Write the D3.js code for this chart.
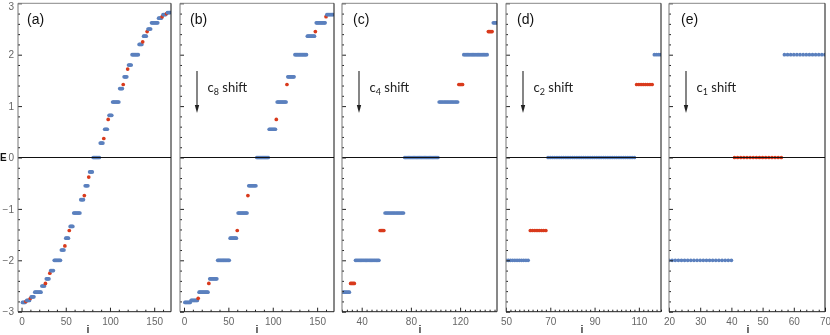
<!DOCTYPE html>
<html><head><meta charset="utf-8">
<script src="https://cdn.jsdelivr.net/npm/d3@7"></script>
<style>
html,body{margin:0;padding:0;background:#fff;}
svg{display:block;will-change:transform;-webkit-font-smoothing:antialiased;}
</style></head>
<body>
<script>
// ---------- data (energy levels, degeneracy, kind: B = degenerate blue, R = red) ----------
const aE    = [-2.82,-2.80,-2.78,-2.74,-2.71,-2.62,-2.50,-2.45,-2.36,-2.25,-2.20,-2.00,-1.80,-1.72,-1.57,-1.42,-1.34,-1.08,-0.82,-0.74,-0.55,-0.38,-0.28,0,
               0.28,0.37,0.55,0.74,0.82,1.08,1.34,1.42,1.57,1.72,1.80,2.00,2.20,2.25,2.36,2.45,2.50,2.62,2.71,2.74,2.78,2.80,2.82];
const aDeg  = [4,1,4,1,4,8,4,1,4,1,4,8,4,1,4,1,4,8,4,1,4,1,4,8,
               4,1,4,1,4,8,4,1,4,1,4,8,4,1,4,1,4,8,4,1,4,1,4];
const aKind = ["B","R","B","R","B","B","B","R","B","R","B","B","B","R","B","R","B","B","B","R","B","R","B","B",
               "B","R","B","R","B","B","B","R","B","R","B","B","B","R","B","R","B","B","B","R","B","R","B"];

const bE    = [-2.82,-2.78,-2.74,-2.62,-2.45,-2.36,-2.00,-1.57,-1.42,-1.08,-0.74,-0.55,0,0.55,0.74,1.08,1.42,1.57,2.00,2.36,2.45,2.62,2.74,2.78];
const bDeg  = [7,8,1,11,1,9,14,8,1,11,1,9,14,8,1,11,1,8,14,9,1,11,1,8];
const bKind = ["B","B","R","B","R","B","B","B","R","B","R","B","B","B","R","B","R","B","B","B","R","B","R","B"];

const cE    = [-2.82,-2.62,-2.45,-2.00,-1.42,-1.08,0,1.08,1.42,2.00,2.45,2.62];
const cDeg  = [8,22,4,20,4,16,28,16,4,20,4,22];
const cKind = ["B","B","R","B","R","B","B","B","R","B","R","B"];

const dE    = [-2.00,-1.42,0,1.42,2.00];
const dDeg  = [60,8,40,8,52];
const dKind = ["B","R","B","R","B"];

const eE    = [-2.00,0,2.00];
const eDeg  = [40,16,112];
const eKind = ["B","R","B"];

const panelLabels = ["(a)","(b)","(c)","(d)","(e)"];
const shiftSubs   = [null,"8","4","2","1"];
const xDomains    = [[-4,169],[-4.5,169],[24,150],[50,120],[20,70]];
const xMajorTicks = [[0,50,100,150],[0,50,100,150],[40,80,120],[50,70,90,110],[20,30,40,50,60,70]];
const xMinorStep  = [10,10,4,2,2];
const yTicks      = [-3,-2,-1,0,1,2,3];

// ---------- layout ----------
const W = 830, H = 335;
const TOP = 3.3, BOT = 311.7;
const frames = [[18,171],[180,334],[342,497],[506,661],[669,825]];
const iLabelX = [88,257,420,582,748];
const BLUE = "#5b80be", RED = "#d93a1c";
const tickFont = "'Liberation Sans Narrow','Liberation Sans',Arial,sans-serif";

const svg = d3.select("body").append("svg").attr("width",W).attr("height",H);
const y = d3.scaleLinear().domain([-3,3]).range([BOT,TOP]);

const datasets = [[aE,aDeg,aKind],[bE,bDeg,bKind],[cE,cDeg,cKind],[dE,dDeg,dKind],[eE,eDeg,eKind]];

datasets.forEach(([E,deg,kind],p) => {
  const [fx0,fx1] = frames[p];
  const x = d3.scaleLinear().domain(xDomains[p]).range([fx0,fx1]);
  const g = svg.append("g");

  // clip
  const cid = "clip"+p;
  svg.append("clipPath").attr("id",cid).append("rect")
    .attr("x",fx0).attr("y",TOP).attr("width",fx1-fx0).attr("height",BOT-TOP);

  // points
  const pts = [];
  let idx = 1;
  E.forEach((e,k) => {
    for (let j=0;j<deg[k];j++){ pts.push({i:idx, e:e, kind:kind[k]}); idx++; }
  });
  g.append("g").attr("clip-path",`url(#${cid})`)
    .selectAll("circle").data(pts).join("circle")
    .attr("cx",d=>x(d.i)).attr("cy",d=>y(d.e)).attr("r",1.85)
    .attr("fill",d=>d.kind==="R"?RED:BLUE);

  // zero line
  g.append("line").attr("x1",fx0).attr("x2",fx1).attr("y1",y(0)).attr("y2",y(0))
    .attr("stroke","#111").attr("stroke-width",1);

  // x axis major
  const xa = g.append("g").attr("transform",`translate(0,${BOT})`)
    .call(d3.axisBottom(x).tickValues(xMajorTicks[p]).tickSizeInner(-4).tickSizeOuter(0).tickPadding(6));
  xa.select(".domain").remove();
  xa.selectAll("line").attr("stroke","#222");
  xa.selectAll("text").attr("fill","#666").style("font-family",tickFont).style("font-size","10px");
  // x minor
  const mstep = xMinorStep[p];
  const minors = d3.range(Math.ceil(xDomains[p][0]/mstep)*mstep, xDomains[p][1]+0.001, mstep)
      .filter(v => !xMajorTicks[p].some(t=>Math.abs(t-v)<1e-6));
  const xm = g.append("g").attr("transform",`translate(0,${BOT})`)
    .call(d3.axisBottom(x).tickValues(minors).tickSizeInner(-2).tickSizeOuter(0).tickFormat(""));
  xm.select(".domain").remove();
  xm.selectAll("line").attr("stroke","#222");

  // y axis major
  const ya = g.append("g").attr("transform",`translate(${fx0},0)`)
    .call(d3.axisLeft(y).tickValues(yTicks).tickSizeInner(-4).tickSizeOuter(0).tickPadding(4)
      .tickFormat(p===0 ? d3.format("d") : ""));
  ya.select(".domain").remove();
  ya.selectAll("line").attr("stroke","#222");
  ya.selectAll("text").attr("fill","#666").style("font-family",tickFont).style("font-size","10px")
    .attr("dy",d => d===3 ? "0.62em" : "0.32em");
  const yMinors = d3.range(-3,3.0001,0.2).map(v=>+v.toFixed(2)).filter(v=>Math.abs(v-Math.round(v))>1e-6);
  const ym = g.append("g").attr("transform",`translate(${fx0},0)`)
    .call(d3.axisLeft(y).tickValues(yMinors).tickSizeInner(-2).tickSizeOuter(0).tickFormat(""));
  ym.select(".domain").remove();
  ym.selectAll("line").attr("stroke","#222");

  // frame
  g.append("line").attr("x1",fx0).attr("x2",fx1).attr("y1",TOP).attr("y2",TOP).attr("stroke","#888").attr("stroke-width",1);
  g.append("line").attr("x1",fx0).attr("x2",fx0).attr("y1",TOP).attr("y2",BOT).attr("stroke","#777").attr("stroke-width",1);
  g.append("line").attr("x1",fx1).attr("x2",fx1).attr("y1",TOP).attr("y2",BOT).attr("stroke","#111").attr("stroke-width",1);
  g.append("line").attr("x1",fx0).attr("x2",fx1).attr("y1",BOT).attr("y2",BOT).attr("stroke","#222").attr("stroke-width",1);

  // panel label
  g.append("text").attr("x",fx0+ (p===0?9:p===1?10:p===2?11:p===3?11:12)).attr("y",24)
    .style("font-family","'Liberation Sans',Arial,sans-serif").style("font-size","14px").attr("fill","#111")
    .text(panelLabels[p]);

  // i label
  g.append("text").attr("x",iLabelX[p]).attr("y",333).attr("text-anchor","middle")
    .style("font-family","'Liberation Sans',Arial,sans-serif").style("font-size","11px")
    .attr("fill","#111").attr("stroke","#111").attr("stroke-width",0.2)
    .text("i");

  // shift arrow + text
  if (shiftSubs[p]) {
    const ax = fx0 + 17;
    g.append("line").attr("x1",ax).attr("x2",ax).attr("y1",71).attr("y2",106)
      .attr("stroke","#222").attr("stroke-width",1.1);
    g.append("path").attr("d",`M${ax-2.2},105 L${ax+2.2},105 L${ax},113 Z`).attr("fill","#222");
    const t = g.append("text").attr("x",ax+10.5).attr("y",92)
      .style("font-family","Lato,'Open Sans',sans-serif").style("font-size","13px").attr("fill","#222");
    t.append("tspan").text("c");
    t.append("tspan").attr("dy",3).style("font-size","9px").text(shiftSubs[p]);
    t.append("tspan").attr("dy",-3).text(" shift");
  }
});

// E label
svg.append("text").attr("x",0).attr("y",161)
  .style("font-family","'Liberation Sans',Arial,sans-serif").style("font-size","10px").style("font-weight","bold")
  .attr("fill","#111").text("E");
</script>
</body></html>
